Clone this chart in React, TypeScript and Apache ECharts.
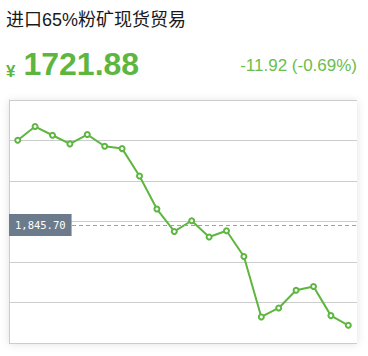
import React, { useEffect, useRef } from "react";
import * as echarts from "echarts";

// Spot trade price series for imported 65% fines
const periods: string[] = [
  "01", "02", "03", "04", "05", "06", "07", "08", "09", "10",
  "11", "12", "13", "14", "15", "16", "17", "18", "19", "20",
];
const prices: number[] = [
  1950.3, 1967.2, 1956.5, 1945.8, 1957.3, 1942.9, 1940.0, 1906.2, 1865.4, 1837.7,
  1850.9, 1830.8, 1838.6, 1806.8, 1732.2, 1743.3, 1765.2, 1769.7, 1733.8, 1721.88,
];
const refLevel = 1845.7;
const yTicks: number[] = [1700, 1750, 1800, 1850, 1900, 1950, 2000];

const titleText = "进口65%粉矿现货贸易";
const GREEN = "#5db63f";
const LIGHT_GREEN = "#6bbd4c";

export default function App() {
  const ref = useRef<HTMLDivElement>(null);

  useEffect(() => {
    document.body.style.margin = "0";
    if (!ref.current) return;
    const chart = echarts.init(ref.current, undefined, { renderer: "svg" });

    const last = prices[prices.length - 1];
    const prev = prices[prices.length - 2];
    const change = last - prev;
    const pct = (change / prev) * 100;
    const changeText = `${change.toFixed(2)} (${pct.toFixed(2)}%)`;
    const refLabel = refLevel.toLocaleString("en-US", {
      minimumFractionDigits: 2,
      maximumFractionDigits: 2,
    });

    chart.setOption({
      animation: false,
      backgroundColor: "#fff",
      title: [
        {
          text: titleText,
          left: 6,
          top: 11,
          padding: 0,
          textStyle: {
            fontFamily: "'Liberation Sans', 'Noto Sans CJK SC', sans-serif",
            fontSize: 18,
            fontWeight: "normal",
            color: "#1a1a1a",
          },
        },
        {
          text: `{y|¥}{v|${last.toFixed(2)}}`,
          left: 6,
          top: 48,
          padding: 0,
          textStyle: {
            rich: {
              y: {
                fontFamily: "'Liberation Sans', sans-serif",
                fontSize: 17,
                fontWeight: "bold",
                color: GREEN,
                verticalAlign: "bottom",
                padding: [0, 8, 0, 0],
              },
              v: {
                fontFamily: "'Liberation Sans', sans-serif",
                fontSize: 32,
                fontWeight: "bold",
                color: GREEN,
              },
            },
          },
        },
        {
          text: changeText,
          right: 11,
          top: 57,
          padding: 0,
          textStyle: {
            fontFamily: "'Liberation Sans', sans-serif",
            fontSize: 17,
            fontWeight: "normal",
            color: LIGHT_GREEN,
          },
        },
      ],
      grid: {
        left: 9,
        right: 11,
        top: 100,
        bottom: 13,
        show: true,
        backgroundColor: "#fff",
        borderWidth: 0,
        shadowBlur: 8,
        shadowColor: "rgba(0,0,0,0.12)",
        shadowOffsetY: 1,
      },
      xAxis: {
        type: "category",
        data: periods,
        boundaryGap: true,
        axisLine: { show: false },
        axisTick: { show: false },
        axisLabel: { show: false },
        splitLine: { show: false },
      },
      yAxis: {
        type: "value",
        min: yTicks[0],
        max: yTicks[yTicks.length - 1],
        interval: yTicks[1] - yTicks[0],
        axisLine: { show: true, lineStyle: { color: "#cccccc", width: 1 } },
        axisTick: { show: false },
        axisLabel: { show: false },
        splitLine: { show: true, lineStyle: { color: "#cccccc", width: 1 } },
      },
      series: [
        {
          type: "line",
          data: prices,
          symbol: "emptyCircle",
          symbolSize: 5,
          lineStyle: { color: GREEN, width: 2 },
          itemStyle: { color: GREEN, borderWidth: 1.5 },
          markLine: {
            silent: true,
            symbol: "none",
            lineStyle: { color: "#a0a0a0", type: [4, 3], width: 1 },
            data: [{ yAxis: refLevel }],
            label: {
              show: true,
              position: "insideStartTop",
              distance: [0, -11],
              formatter: () => refLabel,
              fontFamily: "'DejaVu Sans Mono', monospace",
              fontSize: 10.5,
              color: "#ffffff",
              backgroundColor: "#6c7b8b",
              padding: [6, 6, 5, 6],
            },
          },
        },
      ],
    });

    return () => chart.dispose();
  }, []);

  return (
    <div
      ref={ref}
      style={{ position: "fixed", left: 0, top: 0, width: 368, height: 356 }}
    />
  );
}
